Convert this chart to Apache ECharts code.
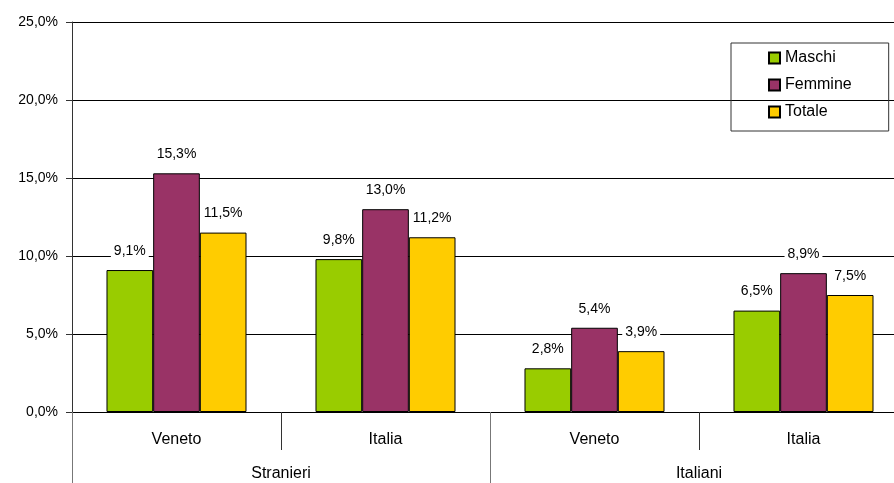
<!DOCTYPE html>
<html>
<head>
<meta charset="utf-8">
<script src="https://cdn.jsdelivr.net/npm/echarts@6/dist/echarts.min.js"></script>
<style>
  html, body { margin: 0; padding: 0; background: #fff; overflow: hidden; }
  #main { width: 908px; height: 483px; }
</style>
</head>
<body>
<div id="main"></div>
<script>
const aree = ['Veneto', 'Italia', 'Veneto', 'Italia']
const gruppi = ['Stranieri', 'Italiani']
const maschi = [9.1, 9.8, 2.8, 6.5]
const femmine = [15.3, 13.0, 5.4, 8.9]
const totale = [11.5, 11.2, 3.9, 7.5]

const pct = v => v.toFixed(1).replace('.', ',') + '%'
const font = 'Liberation Sans, Arial, sans-serif'

function serie(name, data, color) {
  return {
    name: name,
    type: 'bar',
    data: data,
    barGap: 0,
    barCategoryGap: '33%',
    itemStyle: { color: color, borderColor: '#000', borderWidth: 1 },
    label: {
      show: true,
      position: 'top',
      distance: 10,
      formatter: p => pct(p.value),
      color: '#000',
      fontSize: 14,
      fontFamily: font,
      backgroundColor: '#fff',
      padding: [2, 3]
    }
  }
}

const option = {
  animation: false,
  textStyle: { fontFamily: font },
  grid: { left: 72, right: 0, top: 22, bottom: 71 },
  legend: {
    orient: 'vertical',
    left: 731,
    top: 43,
    padding: [7, 37, 11, 37],
    itemGap: 11,
    itemWidth: 11,
    itemHeight: 11,
    borderColor: '#333',
    borderWidth: 1,
    borderRadius: 0,
    icon: 'rect',
    textStyle: { fontSize: 16, color: '#000', fontFamily: font },
    data: ['Maschi', 'Femmine', 'Totale']
  },
  xAxis: [
    {
      type: 'category',
      data: aree,
      axisLine: { lineStyle: { color: '#000' } },
      axisTick: { show: true, length: 38, interval: 0, lineStyle: { color: '#333' } },
      axisLabel: { fontSize: 16, color: '#000', margin: 20, interval: 0 }
    },
    {
      type: 'category',
      data: gruppi,
      position: 'bottom',
      axisLine: { show: false },
      axisTick: { show: true, length: 71, interval: 0, lineStyle: { color: '#777' } },
      axisLabel: { fontSize: 16, color: '#000', margin: 54, interval: 0 }
    }
  ],
  yAxis: {
    type: 'value',
    min: 0,
    max: 25,
    interval: 5,
    axisLine: { show: true, lineStyle: { color: '#333' } },
    axisTick: { show: true, length: 6, lineStyle: { color: '#333' } },
    axisLabel: { formatter: pct, fontSize: 14, color: '#000', margin: 14 },
    splitLine: { lineStyle: { color: '#000', width: 1 } }
  },
  series: [
    serie('Maschi', maschi, '#99CC00'),
    serie('Femmine', femmine, '#993366'),
    serie('Totale', totale, '#FFCC00')
  ]
}

const chart = echarts.init(document.getElementById('main'))
chart.setOption(option)
</script>
</body>
</html>
